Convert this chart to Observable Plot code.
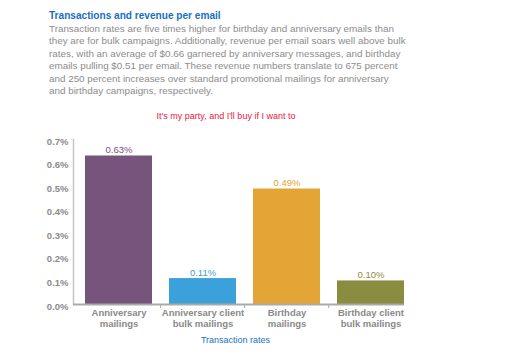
<!DOCTYPE html>
<html>
<head>
<meta charset="utf-8">
<script src="https://cdn.jsdelivr.net/npm/d3@7"></script>
<script src="https://cdn.jsdelivr.net/npm/@observablehq/plot@0.6"></script>
<style>
  html, body { margin: 0; padding: 0; background: #fff; }
  body { width: 512px; height: 357px; position: relative; overflow: hidden; font-family: "Liberation Sans", Arial, sans-serif; }
  #header { position: relative; width: 512px; height: 124px; }
  #title { position: absolute; left: 49px; top: 10px; font-size: 10.1px; line-height: 12px; font-weight: bold; color: #1a6fc4; }
  #para { position: absolute; left: 49px; top: 22.5px; font-size: 9.85px; line-height: 12.6px; color: #8c8c8c; white-space: nowrap; }
  #sub { position: absolute; left: 0; width: 452px; top: 109.5px; text-align: center; font-size: 9px; line-height: 12px; color: #e8173f; }
  #chart { position: absolute; left: 0; top: 124px; }
</style>
</head>
<body>
<div id="header">
  <div id="title">Transactions and revenue per email</div>
  <div id="para"></div>
  <div id="sub">It's my party, and I'll buy if I want to</div>
</div>
<div id="chart"></div>
<script>
const paragraphLines = [
  "Transaction rates are five times higher for birthday and anniversary emails than",
  "they are for bulk campaigns. Additionally, revenue per email soars well above bulk",
  "rates, with an average of $0.66 garnered by anniversary messages, and birthday",
  "emails pulling $0.51 per email. These revenue numbers translate to 675 percent",
  "and 250 percent increases over standard promotional mailings for anniversary",
  "and birthday campaigns, respectively."
];
const categories = ["Anniversary mailings", "Anniversary client bulk mailings", "Birthday mailings", "Birthday client bulk mailings"];
const tickLabels = ["Anniversary\nmailings", "Anniversary client\nbulk mailings", "Birthday\nmailings", "Birthday client\nbulk mailings"];
const rates = [0.63, 0.11, 0.49, 0.10];
const colors = ["#77547c", "#3ba1da", "#e3a535", "#8a8d40"];
const yTicks = [0, 0.1, 0.2, 0.3, 0.4, 0.5, 0.6, 0.7];

document.getElementById("para").innerHTML = paragraphLines.join("<br>");

const data = categories.map((c, i) => ({cat: c, rate: rates[i]}));
const gray = "#8a8a8a";
const step = (404 - 73) / (4 - 0.2 + 2 * 0.054);

const chart = Plot.plot({
  width: 512,
  height: 233,
  marginLeft: 73,
  marginRight: 108,
  marginTop: 15,
  marginBottom: 53,
  style: {fontFamily: "'Liberation Sans', Arial, sans-serif", background: "#fff"},
  x: {domain: categories, paddingInner: 0.2, paddingOuter: 0.054, align: 1, axis: null},
  y: {domain: [0, 0.7], axis: null},
  color: {domain: categories, range: colors},
  marks: [
    Plot.frame({anchor: "left", stroke: "#c4c4c4", strokeWidth: 1.5}),
    Plot.barY(data, {x: "cat", y: "rate", fill: "cat"}),
    Plot.ruleY([0], {stroke: "#aaaaaa", strokeWidth: 2}),
    Plot.ruleX(categories.slice(1), {x: d => d, y1: 0, y2: 0, dx: -step / 2, insetBottom: -4, stroke: "#aaaaaa"}),
    Plot.axisY({ticks: yTicks, tickSize: 0, tickPadding: 5, tickFormat: d => d.toFixed(1) + "%", fontWeight: "bold", fill: gray, fontSize: 9.5, label: null, dy: 2}),
    Plot.axisX({tickSize: 0, tickPadding: 4, tickFormat: d => tickLabels[categories.indexOf(d)], fontWeight: "bold", fill: gray, fontSize: 9.5, label: null, lineHeight: 1.12}),
    Plot.text(data, {x: "cat", y: "rate", text: d => d.rate.toFixed(2) + "%", fill: "cat", dy: -6, fontSize: 9.5}),
    Plot.text(["Transaction rates"], {frameAnchor: "bottom", lineAnchor: "middle", dy: 36, dx: -3.5, fill: "#1a70c8", fontSize: 9})
  ]
});
document.getElementById("chart").appendChild(chart);
</script>
</body>
</html>
